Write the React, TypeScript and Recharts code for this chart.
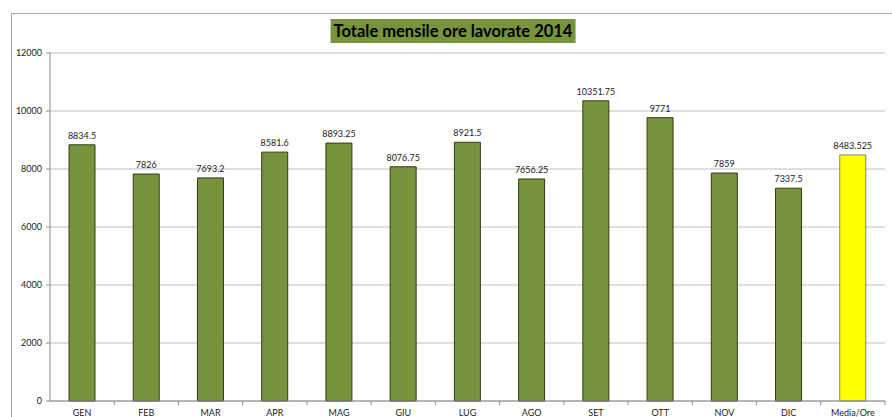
import React from "react";
import { BarChart, Bar, XAxis, YAxis, CartesianGrid, LabelList, Cell } from "recharts";

const categories = ["GEN", "FEB", "MAR", "APR", "MAG", "GIU", "LUG", "AGO", "SET", "OTT", "NOV", "DIC", "Media/Ore"];
const values = [8834.5, 7826, 7693.2, 8581.6, 8893.25, 8076.75, 8921.5, 7656.25, 10351.75, 9771, 7859, 7337.5, 8483.525];
const yTicks = [0, 2000, 4000, 6000, 8000, 10000, 12000];

const data = categories.map((c, i) => ({ name: c, value: values[i] }));

const FONT = "Lato, 'Open Sans', 'DejaVu Sans', sans-serif";
const GREEN = "#77933C";
const BAND = 835 / 13;

const XTick = (props: any) => {
  const { x, y, payload } = props;
  return (
    <g>
      <line x1={x + BAND / 2} x2={x + BAND / 2} y1={y - 8} y2={y - 4} stroke="#8c8c8c" />
      <text x={x} y={y + 7} textAnchor="middle" fontSize={9} fill="#222" fontFamily={FONT}>
        {payload.value}
      </text>
    </g>
  );
};

export default function App() {
  return (
    <div style={{ position: "absolute", left: 0, top: 0, width: 892, height: 417, overflow: "hidden", background: "#fff" }}>
      <div style={{ position: "absolute", left: 11, top: 13, width: 900, height: 420, border: "1px solid #a6a6a6" }} />
      <div
        style={{
          position: "absolute",
          left: 453,
          top: 19,
          transform: "translateX(-50%)",
          height: 24,
          padding: "0 3px",
          background: GREEN,
          color: "#000",
          fontFamily: FONT,
          fontWeight: 700,
          fontSize: 16.5,
          lineHeight: "24px",
          textAlign: "center",
          whiteSpace: "nowrap",
        }}
      >
        Totale mensile ore lavorate 2014
      </div>
      <div style={{ position: "absolute", left: 0, top: 0 }}>
        <BarChart width={892} height={417} data={data} margin={{ top: 53, right: 7, left: 0, bottom: 0 }} barSize={26}>
          <CartesianGrid vertical={false} stroke="#bfbfbf" />
          <XAxis
            dataKey="name"
            height={16}
            tick={<XTick />}
            tickLine={false}
            axisLine={{ stroke: "#8c8c8c" }}
            interval={0}
          />
          <YAxis
            width={50}
            domain={[0, 12000]}
            ticks={yTicks}
            interval={0}
            tick={{ fontSize: 9, fill: "#222", fontFamily: FONT }}
            tickLine={{ stroke: "#8c8c8c" }}
            tickSize={4}
            tickMargin={4}
            axisLine={{ stroke: "#8c8c8c" }}
          />
          <Bar dataKey="value" isAnimationActive={false} stroke="#2f3d14" strokeWidth={1}>
            {data.map((d, i) => (
              <Cell key={i} fill={i === data.length - 1 ? "#FFFF00" : GREEN} stroke={i === data.length - 1 ? "#7f7f7f" : "#2f3d14"} />
            ))}
            <LabelList dataKey="value" position="top" offset={6} style={{ fontSize: 9, fill: "#222", fontFamily: FONT }} />
          </Bar>
        </BarChart>
      </div>
    </div>
  );
}
